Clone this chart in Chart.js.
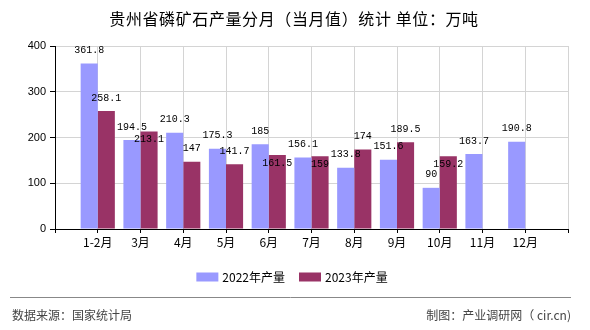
<!DOCTYPE html>
<html>
<head>
<meta charset="utf-8">
<script src="https://cdn.jsdelivr.net/npm/chart.js@4.4.0/dist/chart.umd.min.js"></script>
<style>
html, body { margin: 0; padding: 0; background: #fff; }
</style>
</head>
<body>
<canvas id="phosphateChart" width="590" height="330"></canvas>
<script>
// data (万吨)
const categories = ['1-2月', '3月', '4月', '5月', '6月', '7月', '8月', '9月', '10月', '11月', '12月'];
const output2022 = [361.8, 194.5, 210.3, 175.3, 185, 156.1, 133.8, 151.6, 90, 163.7, 190.8];
const output2023 = [258.1, 213.1, 147, 141.7, 161.5, 159, 174, 189.5, 159.2, null, null];
const seriesNames = ['2022年产量', '2023年产量'];
const yTicks = [0, 100, 200, 300, 400];

const titleText = '贵州省磷矿石产量分月（当月值）统计 单位：万吨';
const sourceText = '数据来源：国家统计局';
const makerText = '制图：产业调研网（ cir.cn)';

const CJK = '"Noto Sans CJK SC", sans-serif';

// one empty slot on each side so the groups sit between the axis ends
const pad = arr => [null].concat(arr, [null]);
const axisLabels = [''].concat(categories, ['']);

// value labels, title, legend and footer
const decor = {
    id: 'decor',
    afterDatasetsDraw(chart) {
        const ctx = chart.ctx;
        ctx.save();
        ctx.font = '10px "Liberation Mono", monospace';
        ctx.textAlign = 'center';
        ctx.textBaseline = 'middle';
        ctx.fillStyle = '#000';
        const placed = [];
        const hit = r => placed.some(p => r.x1 < p.x2 && r.x2 > p.x1 && r.y1 < p.y2 && r.y2 > p.y1);
        chart.data.datasets.forEach((ds, di) => {
            chart.getDatasetMeta(di).data.forEach((bar, i) => {
                const v = ds.data[i];
                if (v === null || v === undefined) return;
                const text = String(v);
                const w = ctx.measureText(text).width;
                let cy = bar.y - 13;
                let r = {x1: bar.x - w / 2, x2: bar.x + w / 2, y1: cy - 5, y2: cy + 5};
                if (hit(r)) {
                    // clashes with a neighbour: drop it just inside the bar
                    cy = bar.y + 8;
                    r = {x1: r.x1, x2: r.x2, y1: cy - 5, y2: cy + 5};
                }
                placed.push(r);
                ctx.fillText(text, bar.x, cy);
            });
        });
        ctx.restore();
    },
    afterDraw(chart) {
        const ctx = chart.ctx;
        const W = chart.width;
        ctx.save();

        // title
        ctx.fillStyle = '#000';
        ctx.font = '16px ' + CJK;
        ctx.letterSpacing = '0.6px';
        ctx.textAlign = 'center';
        ctx.textBaseline = 'middle';
        ctx.fillText(titleText, W / 2 - 1, 19);
        ctx.letterSpacing = '0px';

        // legend
        ctx.font = '12px ' + CJK;
        ctx.textAlign = 'left';
        const boxW = 22, boxH = 9, gap = 4, spacing = 14;
        const items = chart.data.datasets.map(ds => ({
            label: ds.label, color: ds.backgroundColor, w: ctx.measureText(ds.label).width
        }));
        let total = 0;
        items.forEach((it, k) => { total += boxW + gap + it.w + (k ? spacing : 0); });
        let x = W / 2 - total / 2 - 3;
        const ly = 277;
        items.forEach(it => {
            ctx.fillStyle = it.color;
            ctx.fillRect(x, ly - boxH / 2, boxW, boxH);
            ctx.fillStyle = '#000';
            ctx.fillText(it.label, x + boxW + gap, ly);
            x += boxW + gap + it.w + spacing;
        });

        // footer
        ctx.strokeStyle = '#888';
        ctx.lineWidth = 1;
        ctx.beginPath();
        ctx.moveTo(10, 297.5);
        ctx.lineTo(571, 297.5);
        ctx.stroke();
        ctx.fillStyle = '#444';
        ctx.font = '12px ' + CJK;
        ctx.textAlign = 'left';
        ctx.fillText(sourceText, 12, 315);
        ctx.textAlign = 'right';
        ctx.fillText(makerText, 571, 315);

        ctx.restore();
    }
};

const ctx = document.getElementById('phosphateChart');
const outputChart = new Chart(ctx, {
    type: 'bar',
    data: {
        labels: axisLabels,
        datasets: [
            {
                label: seriesNames[0],
                data: pad(output2022),
                backgroundColor: '#9999FF'
            },
            {
                label: seriesNames[1],
                data: pad(output2023),
                backgroundColor: '#993366'
            }
        ]
    },
    options: {
        responsive: false,
        animation: false,
        events: [],
        devicePixelRatio: 1,
        layout: {
            padding: {top: 46, right: 22, bottom: 81, left: 0}
        },
        datasets: {
            bar: {
                categoryPercentage: 0.8,
                barPercentage: 1.0
            }
        },
        plugins: {
            legend: {display: false},
            title: {display: false},
            tooltip: {enabled: false}
        },
        scales: {
            x: {
                offset: false,
                grid: {
                    offset: false,
                    color: '#d4d4d4',
                    tickColor: '#000',
                    tickLength: 4
                },
                border: {color: '#000', width: 1},
                ticks: {
                    autoSkip: false,
                    maxRotation: 0,
                    padding: 2,
                    color: '#000',
                    font: {family: CJK, size: 12}
                },
                afterFit(scale) { scale.height = 20; }
            },
            y: {
                min: yTicks[0],
                max: yTicks[yTicks.length - 1],
                ticks: {
                    stepSize: yTicks[1] - yTicks[0],
                    padding: 4,
                    color: '#000',
                    font: {family: '"Liberation Sans", sans-serif', size: 11}
                },
                grid: {
                    color: '#d4d4d4',
                    tickColor: '#000',
                    tickLength: 5
                },
                border: {color: '#000', width: 1},
                afterFit(scale) { scale.width = 55; }
            }
        }
    },
    plugins: [decor]
});
</script>
</body>
</html>
